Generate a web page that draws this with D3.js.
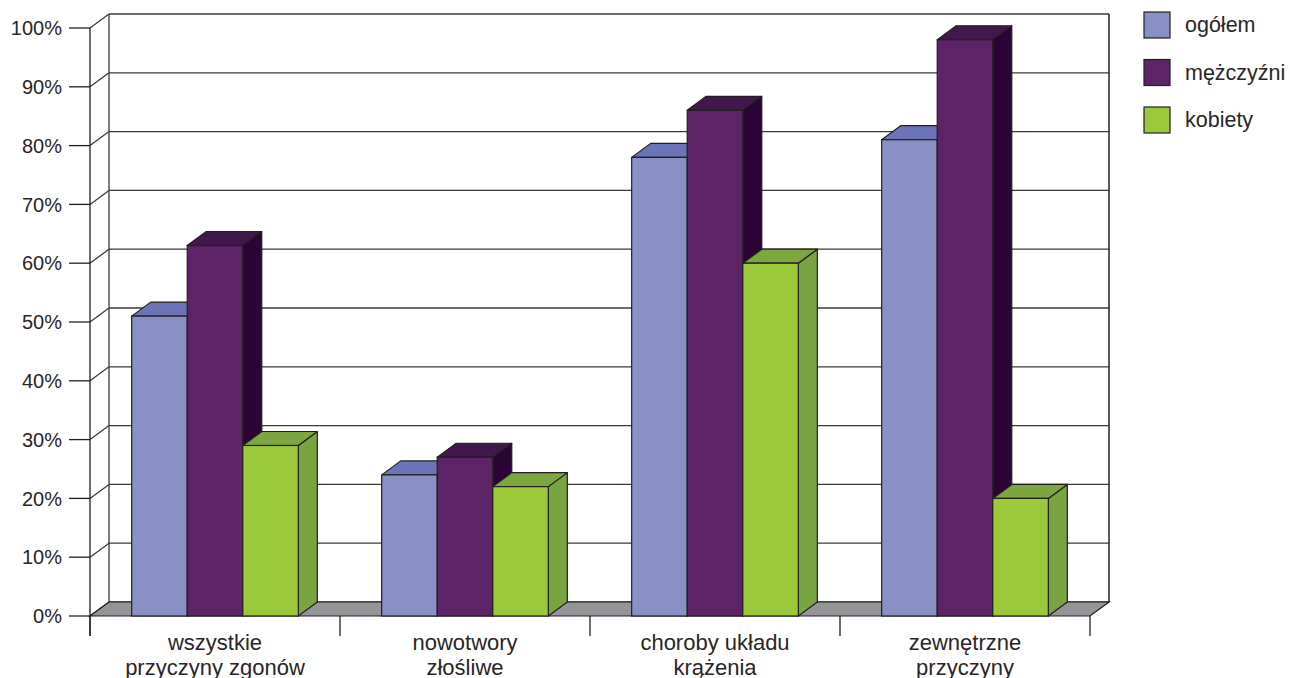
<!DOCTYPE html>
<html>
<head>
<meta charset="utf-8">
<script src="https://cdn.jsdelivr.net/npm/d3@7"></script>
<style>
html,body{margin:0;padding:0;background:#fff;}
svg{display:block;}
text{font-family:"Liberation Sans",Arial,Helvetica,sans-serif;fill:#2a2627;}
</style>
</head>
<body>
<svg id="chart" width="1290" height="678"></svg>
<script>
const categories = [["wszystkie","przyczyny zgonów"],["nowotwory","złośliwe"],["choroby układu","krążenia"],["zewnętrzne","przyczyny"]];
const seriesNames = ["ogółem","mężczyźni","kobiety"];
const ogolem = [51,24,78,81];
const mezczyzni = [63,27,86,98];
const kobiety = [29,22,60,20];
const yTicks = [0,10,20,30,40,50,60,70,80,90,100];

const seriesValues = [ogolem, mezczyzni, kobiety];
const colors = [
  {front:"#8890c6", top:"#6b74b6", side:"#6b74b6"},
  {front:"#5c2366", top:"#40184c", side:"#2a0434"},
  {front:"#9bc93c", top:"#7ba640", side:"#78a442"}
];
const stroke = "#231f20";
const DX = 19, DY = 14;

const svg = d3.select("#chart");
const x0 = d3.scaleBand().domain(d3.range(categories.length)).range([90,1090]).paddingInner(0).paddingOuter(0);
const x1 = d3.scaleBand().domain(d3.range(seriesNames.length)).range([0,x0.bandwidth()]).paddingOuter(0.75).paddingInner(0);
const y = d3.scaleLinear().domain([0,100]).range([616,28]);

const xl = x0.range()[0], xr = x0.range()[1];

// back wall
svg.append("rect").attr("x",xl+DX).attr("y",y(100)-DY).attr("width",xr-xl).attr("height",y(0)-y(100))
  .attr("fill","#fff").attr("stroke","none");

// gridlines on back wall + side wall
const g = svg.append("g");
yTicks.forEach(t=>{
  g.append("line").attr("x1",xl+DX).attr("x2",xr+DX).attr("y1",y(t)-DY).attr("y2",y(t)-DY)
    .attr("stroke","#3a3a3a").attr("stroke-width",1.3);
  g.append("line").attr("x1",xl).attr("x2",xl+DX).attr("y1",y(t)).attr("y2",y(t)-DY)
    .attr("stroke","#3a3a3a").attr("stroke-width",1.3);
});
// wall edges
g.append("line").attr("x1",xl+DX).attr("x2",xl+DX).attr("y1",y(100)-DY).attr("y2",y(0)-DY).attr("stroke","#3a3a3a").attr("stroke-width",1.3);
g.append("line").attr("x1",xr+DX).attr("x2",xr+DX).attr("y1",y(100)-DY).attr("y2",y(0)-DY).attr("stroke","#231f20").attr("stroke-width",1.5);

// floor
svg.append("path")
  .attr("d",`M${xl},${y(0)} L${xr},${y(0)} L${xr+DX},${y(0)-DY} L${xl+DX},${y(0)-DY} Z`)
  .attr("fill","#939598").attr("stroke",stroke).attr("stroke-width",1.2);

// value axis
svg.append("line").attr("x1",xl).attr("x2",xl).attr("y1",y(100)).attr("y2",y(0)+20).attr("stroke",stroke).attr("stroke-width",1.3);
const yAxis = svg.append("g");
yTicks.forEach(t=>{
  yAxis.append("line").attr("x1",xl-21).attr("x2",xl).attr("y1",y(t)).attr("y2",y(t)).attr("stroke",stroke).attr("stroke-width",1.3);
  yAxis.append("text").attr("x",xl-28).attr("y",y(t)).attr("dy","0.36em").attr("text-anchor","end")
    .style("font-size","20px").text(t+"%");
});

// category ticks
d3.range(categories.length+1).forEach(i=>{
  const xx = i<categories.length ? x0(i) : xr;
  svg.append("line").attr("x1",xx).attr("x2",xx).attr("y1",y(0)).attr("y2",y(0)+20).attr("stroke",stroke).attr("stroke-width",1.3);
});

// category labels
categories.forEach((lines,i)=>{
  const cx = x0(i)+x0.bandwidth()/2;
  const t = svg.append("text").attr("text-anchor","middle").style("font-size","22px");
  lines.forEach((ln,j)=>{
    t.append("tspan").attr("x",cx).attr("y",650+j*25).text(ln);
  });
});

// bars
const bars = svg.append("g");
categories.forEach((c,i)=>{
  seriesValues.forEach((vals,s)=>{
    const bx = x0(i)+x1(s), bw = x1.bandwidth();
    const top = y(vals[i]), bot = y(0);
    const col = colors[s];
    // side
    bars.append("path").attr("d",`M${bx+bw},${bot} L${bx+bw+DX},${bot-DY} L${bx+bw+DX},${top-DY} L${bx+bw},${top} Z`)
      .attr("fill",col.side).attr("stroke",stroke).attr("stroke-width",1.2).attr("stroke-linejoin","round");
    // top
    bars.append("path").attr("d",`M${bx},${top} L${bx+DX},${top-DY} L${bx+bw+DX},${top-DY} L${bx+bw},${top} Z`)
      .attr("fill",col.top).attr("stroke",stroke).attr("stroke-width",1.2).attr("stroke-linejoin","round");
    // front
    bars.append("rect").attr("x",bx).attr("y",top).attr("width",bw).attr("height",bot-top)
      .attr("fill",col.front).attr("stroke",stroke).attr("stroke-width",1.2);
  });
});

// legend
const legend = svg.append("g");
seriesNames.forEach((n,s)=>{
  const ly = 12 + s*47.5;
  legend.append("rect").attr("x",1144).attr("y",ly).attr("width",26).attr("height",26)
    .attr("fill",colors[s].front).attr("stroke",stroke).attr("stroke-width",1.2);
  legend.append("text").attr("x",1185).attr("y",ly+13).attr("dy","0.33em").style("font-size","21.5px").text(n);
});
</script>
</body>
</html>
